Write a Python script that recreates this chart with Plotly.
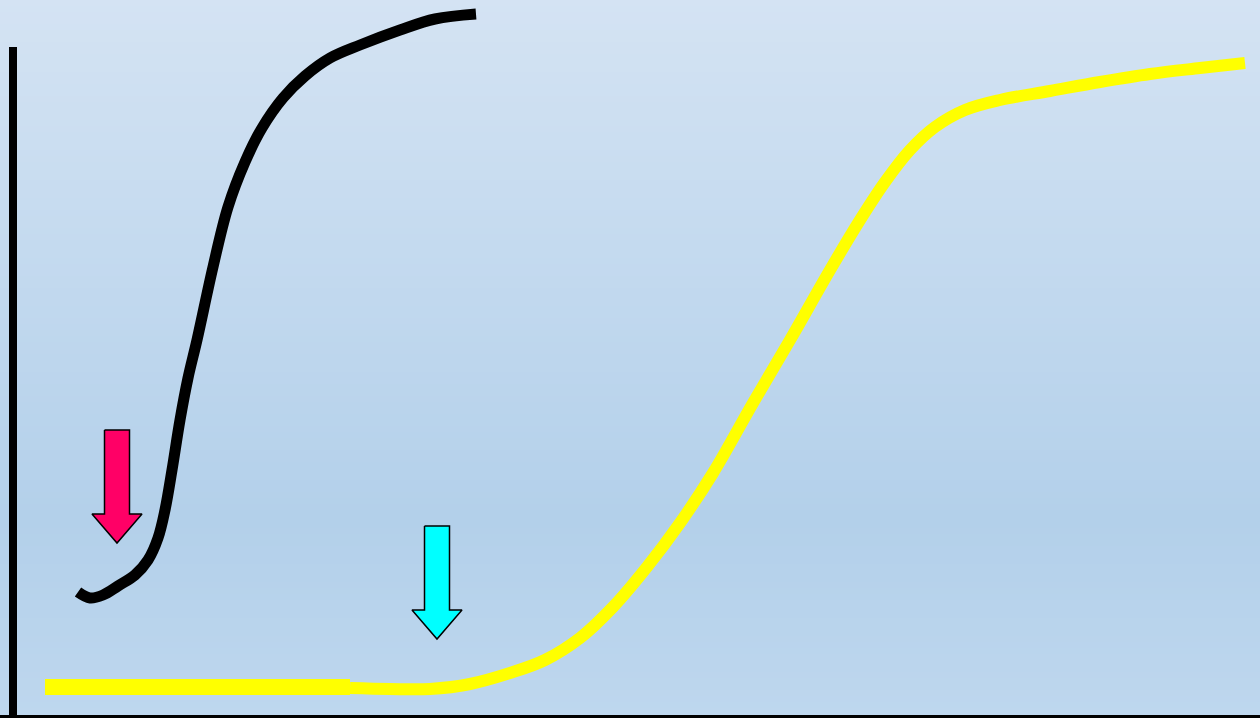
import plotly.graph_objects as go

# ---- data (x: time units from the vertical axis, y: response above the baseline) ----
black_x = [65, 77, 90, 105, 122, 135, 145, 152, 159, 167, 175, 184, 200, 215, 232, 249, 270, 292, 317, 347, 387, 422, 463]
black_y = [123, 117, 120, 129, 140, 155, 177, 205, 245, 295, 337, 375, 448, 508, 553, 587, 617, 639, 657, 670, 685, 696, 701]

yellow_flat_x = [32, 337]
yellow_flat_y = [28, 28]

yellow_x = [337, 377, 417, 457, 497, 532, 567, 600, 634, 667, 700, 740, 777, 817, 847, 872, 897, 922, 952, 987, 1037, 1087, 1137, 1187, 1232]
yellow_y = [27, 26, 26, 31, 42, 55, 77, 108, 148, 192, 242, 312, 375, 445, 495, 533, 565, 588, 605, 615, 624, 633, 641, 647, 652]

arrow_names = ["pink", "cyan"]
arrow_x = [104, 424]
arrow_top = [285, 189]
arrow_tip = [172, 76]
arrow_colors = ["#FF0066", "#00FFFF"]

# ---- styling constants ----
SHAFT_HALF = 12.5
HEAD_HALF = 25
HEAD_LEN = 29

fig = go.Figure()

# background gradient (vertical)
stops = [(0, (212, 227, 243)), (250, (196, 218, 239)), (520, (179, 208, 234)), (718, (190, 215, 238))]
def bg_color(py):
    for (p0, c0), (p1, c1) in zip(stops[:-1], stops[1:]):
        if p0 <= py <= p1:
            t = (py - p0) / (p1 - p0)
            return "rgb(%d,%d,%d)" % tuple(round(a + (b - a) * t) for a, b in zip(c0, c1))
    return "rgb(%d,%d,%d)" % stops[-1][1]

shapes = []
band = 6
for py in range(0, 720, band):
    shapes.append(dict(type="rect", xref="paper", yref="paper", x0=0, x1=1,
                       y0=1 - (py + band) / 718, y1=1 - py / 718,
                       fillcolor=bg_color(py + band / 2), line=dict(width=0), layer="below"))

# axes lines
shapes.append(dict(type="line", xref="x", yref="y", x0=0, x1=0, y0=-5, y1=668,
                   line=dict(color="black", width=8)))
shapes.append(dict(type="line", xref="x", yref="y", x0=-20, x1=1260, y0=-3, y1=-3,
                   line=dict(color="black", width=6)))

fig.add_trace(go.Scatter(x=yellow_flat_x, y=yellow_flat_y, mode="lines",
                         line=dict(color="#FFFF00", width=16), hoverinfo="skip"))
fig.add_trace(go.Scatter(x=yellow_x, y=yellow_y, mode="lines",
                         line=dict(color="#FFFF00", width=12, shape="spline", smoothing=1.0),
                         hoverinfo="skip"))
fig.add_trace(go.Scatter(x=black_x, y=black_y, mode="lines",
                         line=dict(color="black", width=11, shape="spline", smoothing=1.0),
                         hoverinfo="skip"))

for name, ax, top, tip, col in zip(arrow_names, arrow_x, arrow_top, arrow_tip, arrow_colors):
    hb = tip + HEAD_LEN
    px = [ax - SHAFT_HALF, ax + SHAFT_HALF, ax + SHAFT_HALF, ax + HEAD_HALF, ax,
          ax - HEAD_HALF, ax - SHAFT_HALF, ax - SHAFT_HALF]
    py = [top, top, hb, hb, tip, hb, hb, top]
    fig.add_trace(go.Scatter(x=px, y=py, mode="lines", fill="toself", fillcolor=col,
                             line=dict(color="black", width=1.5), name=name, hoverinfo="skip"))

fig.update_layout(
    width=1260, height=718,
    margin=dict(l=0, r=0, t=0, b=0),
    showlegend=False,
    paper_bgcolor="#C8DDF1",
    plot_bgcolor="rgba(0,0,0,0)",
    shapes=shapes,
    xaxis=dict(range=[-13, 1247], visible=False, fixedrange=True),
    yaxis=dict(range=[-3, 715], visible=False, fixedrange=True),
)

fig.write_html("out.html", config={"displayModeBar": False},
               post_script="document.body.style.margin='0';document.body.style.overflow='hidden';")
